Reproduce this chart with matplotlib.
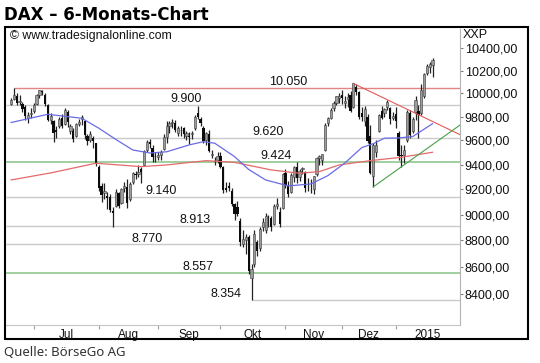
import matplotlib
matplotlib.use("Agg")
import matplotlib.pyplot as plt
from matplotlib.patches import Rectangle
from matplotlib.ticker import FixedLocator, NullLocator, FuncFormatter
import numpy as np
import pandas as pd

# trading days shown (Xetra), 19.06.2014 - 21.01.2015
holidays = ["2014-12-24", "2014-12-25", "2014-12-26", "2014-12-31", "2015-01-01"]
dates = pd.bdate_range("2014-06-19", "2015-01-21")
dates = dates[~dates.isin(pd.to_datetime(holidays))]

# daily OHLC
opens = [
    9910, 9950, 9975, 9925, 9910, 9880, 9790, 9820,                      # Jun
    9850, 9910, 9985, 10020, 9990, 9900, 9770, 9760, 9690, 9720, 9790,
    9740, 9840, 9680, 9680, 9640, 9740, 9780, 9760, 9640, 9600, 9620, 9580,  # Jul
    9380, 9230, 9170, 9150, 9140, 9030, 9070, 9170, 9090, 9210, 9220,
    9120, 9260, 9320, 9320, 9360, 9400, 9520, 9590, 9540, 9470,         # Aug
    9460, 9480, 9530, 9630, 9720, 9750, 9750, 9660, 9690, 9700, 9640,
    9640, 9650, 9700, 9830, 9780, 9700, 9600, 9650, 9480, 9430, 9440,   # Sep
    9470, 9380, 9210, 9230, 9190, 9080, 9060, 8950, 8770, 8800, 8830,
    8520, 8620, 8790, 8740, 8900, 8880, 8990, 8970, 8930, 9070, 9020, 9050,  # Okt
    9330, 9230, 9180, 9300, 9380, 9300, 9360, 9340, 9250, 9250,
    9200, 9320, 9450, 9440, 9520, 9750, 9790, 9870, 9920, 9960,         # Nov
    9990, 9920, 9950, 9990, 9880, 10060, 10010, 9830, 9760, 9800,
    9640, 9310, 9500, 9680, 9850, 9830, 9880, 9870, 9790,               # Dez
    9820, 9660, 9480, 9480, 9600, 9830, 9680, 9840, 9850, 9830,
    9980, 10180, 10230, 10250,                                          # Jan
]
highs = [
    9960, 10051, 10000, 9990, 9925, 9900, 9840, 9870,
    9920, 9995, 10033, 10030, 10000, 9910, 9830, 9770, 9720, 9800, 9820,
    9870, 9860, 9740, 9700, 9750, 9780, 9810, 9770, 9650, 9680, 9640, 9580,
    9400, 9250, 9250, 9180, 9160, 9060, 9200, 9180, 9210, 9260, 9280,
    9260, 9340, 9350, 9400, 9380, 9520, 9600, 9610, 9560, 9500,
    9500, 9520, 9650, 9760, 9760, 9780, 9770, 9720, 9720, 9710, 9680,
    9670, 9680, 9810, 9891, 9800, 9720, 9670, 9690, 9520, 9460, 9500,
    9500, 9390, 9260, 9260, 9210, 9090, 9110, 8970, 8880, 8850, 8840,
    8620, 8880, 8800, 8900, 8970, 9010, 9000, 8990, 9080, 9130, 9060, 9330,
    9360, 9270, 9330, 9390, 9420, 9360, 9380, 9350, 9290, 9280,
    9310, 9460, 9480, 9490, 9750, 9800, 9870, 9930, 9980, 10000,
    10030, 9980, 10000, 10020, 10087, 10080, 10020, 9880, 9890, 9820,
    9730, 9580, 9600, 9820, 9890, 9870, 9945, 9880, 9840,
    9880, 9680, 9560, 9560, 9860, 9860, 9800, 9980, 9900, 10080,
    10180, 10260, 10280, 10310,
]
lows = [
    9900, 9940, 9900, 9900, 9840, 9770, 9750, 9790,
    9830, 9900, 9960, 9990, 9890, 9760, 9740, 9590, 9620, 9700, 9700,
    9730, 9710, 9650, 9590, 9630, 9720, 9730, 9610, 9560, 9590, 9540, 9390,
    9190, 9100, 9120, 9040, 9020, 8903, 9060, 9050, 9080, 9180, 9050,
    9110, 9240, 9280, 9300, 9250, 9390, 9500, 9540, 9420, 9420,
    9440, 9440, 9520, 9580, 9660, 9700, 9670, 9640, 9640, 9620, 9600,
    9570, 9610, 9690, 9780, 9720, 9580, 9560, 9500, 9450, 9400, 9410,
    9370, 9170, 9180, 9190, 9070, 8960, 8990, 8760, 8750, 8700, 8550,
    8354, 8600, 8680, 8720, 8870, 8860, 8900, 8870, 8920, 9040, 8900, 9040,
    9210, 9140, 9170, 9260, 9250, 9270, 9320, 9180, 9190, 9170,
    9160, 9310, 9400, 9400, 9510, 9720, 9780, 9850, 9900, 9920,
    9910, 9870, 9880, 9840, 9870, 9990, 9780, 9760, 9720, 9580,
    9320, 9219, 9460, 9670, 9780, 9800, 9860, 9740, 9770,
    9700, 9440, 9382, 9410, 9590, 9620, 9660, 9770, 9620, 9810,
    9960, 10160, 10180, 10140,
]
closes = [
    9945, 9987, 9920, 9938, 9868, 9804, 9815, 9833,
    9902, 9990, 10029, 10009, 9906, 9772, 9808, 9659, 9666, 9783, 9719,
    9859, 9753, 9720, 9612, 9734, 9753, 9797, 9644, 9593, 9653, 9593, 9407,
    9210, 9154, 9189, 9130, 9039, 9010, 9180, 9069, 9199, 9225, 9092,
    9245, 9334, 9314, 9339, 9339, 9510, 9588, 9569, 9462, 9470,
    9479, 9507, 9626, 9724, 9747, 9758, 9686, 9700, 9691, 9651, 9660,
    9632, 9661, 9799, 9799, 9750, 9595, 9662, 9510, 9490, 9422, 9474,
    9382, 9195, 9196, 9209, 9086, 9006, 9005, 8788, 8812, 8825, 8572,
    8582, 8850, 8717, 8886, 8940, 8987, 8988, 8902, 9068, 9082, 8926, 9326,
    9235, 9166, 9315, 9377, 9291, 9351, 9369, 9210, 9248, 9252,
    9306, 9456, 9472, 9483, 9732, 9785, 9861, 9915, 9974, 9980,
    9963, 9934, 9971, 9851, 10087, 10014, 9799, 9799, 9862, 9594,
    9335, 9563, 9564, 9811, 9787, 9865, 9922, 9783, 9806,
    9765, 9473, 9469, 9518, 9837, 9648, 9781, 9941, 9818, 10032,
    10167, 10242, 10257, 10299,
]

# moving averages, sampled from the chart (bar number, value)
ma_fast_bar = [0, 13, 25, 31, 37, 43, 49, 55, 63, 68, 72, 79, 84, 90, 98, 106, 112, 118, 124, 128, 132, 137, 142, 149]
ma_fast = [9750, 9820, 9786, 9702, 9608, 9520, 9495, 9505, 9562, 9589, 9576, 9465, 9360, 9275, 9227, 9243, 9310, 9413, 9540, 9572, 9618, 9620, 9632, 9740]
ma_slow_bar = [0, 14, 30, 46, 55, 69, 79, 92, 102, 109, 116, 127, 138, 149]
ma_slow = [9275, 9332, 9411, 9383, 9397, 9432, 9418, 9356, 9329, 9343, 9397, 9432, 9460, 9501]

# horizontal levels
levels = [10050, 9900, 9620, 9424, 9140, 8913, 8770, 8557, 8354]
level_kind = ["red", "grey", "grey", "green", "grey", "grey", "grey", "green", "grey"]
level_from = ["2014-06-20", None, None, None, None, None, None, None, "2014-10-16"]

# trend lines through two bars: (date, which price)
trend_down = [("2014-12-05", "high"), ("2014-12-23", "high")]
trend_up = [("2014-12-16", "low"), ("2015-01-06", "low")]

month_labels = ["Jul", "Aug", "Sep", "Okt", "Nov", "Dez", "2015"]
price_ticks = [8400, 8600, 8800, 9000, 9200, 9400, 9600, 9800, 10000, 10200, 10400]

# ---------------------------------------------------------------
W, H = 540, 363
fig = plt.figure(figsize=(W / 100, H / 100), dpi=100)
fig.patch.set_facecolor("white")

def fx(px):
    return px / W

def fy(py):
    return 1 - py / H

ax = fig.add_axes([fx(6), fy(325), fx(460) - fx(6), fy(29) - fy(325)])
ax.set_yscale("log")
ax.set_ylim(8176, 10576)
ax.set_xlim(-1.8, 158.7)
xmin, xmax = ax.get_xlim()

o = np.array(opens, float)
hi = np.array(highs, float)
lo = np.array(lows, float)
c = np.array(closes, float)
x = np.arange(len(dates))
pos = {d.strftime("%Y-%m-%d"): i for i, d in enumerate(dates)}

# levels
lvl_color = {"red": "#e08484", "grey": "#cacaca", "green": "#9acb9a"}
lvl_width = {"red": 1.0, "grey": 1.0, "green": 1.3}
for v, k, start in zip(levels, level_kind, level_from):
    x0 = pos[start] if start else xmin
    ax.hlines(v, x0, xmax, color=lvl_color[k], lw=lvl_width[k], zorder=1)

label_x = [98, 62, 91, 93.5, 53, 65, 48, 66, 76]
for v, lx in zip(levels, label_x):
    ax.annotate(f"{v:,}".replace(",", "."), xy=(lx, v), xytext=(0, 2),
                textcoords="offset points", ha="center", va="baseline",
                fontsize=9, family="Liberation Sans", color="#111111", zorder=5)

# candles
up = c >= o
ax.vlines(x, lo, hi, color="#222222", lw=0.9, zorder=2)
ax.bar(x[up], (c - o)[up], bottom=o[up], width=0.8, color="#9c9c9c",
       edgecolor="#3a3a3a", linewidth=0.4, zorder=3)
ax.bar(x[~up], (o - c)[~up], bottom=c[~up], width=0.8, color="#0c0c0c",
       linewidth=0, zorder=3)

# moving averages
ax.plot(ma_slow_bar, ma_slow, color="#e46a6a", lw=0.9, zorder=4)
ax.plot(ma_fast_bar, ma_fast, color="#6a6ae6", lw=0.9, zorder=4)

# trend lines, extended to the right edge
def trend(points, color):
    (d1, f1), (d2, f2) = points
    i1, i2 = pos[d1], pos[d2]
    p1 = {"high": hi, "low": lo}[f1][i1]
    p2 = {"high": hi, "low": lo}[f2][i2]
    k = np.log(p2 / p1) / (i2 - i1)
    ax.plot([i1, xmax], [p1, p1 * np.exp(k * (xmax - i1))], color=color, lw=0.8, zorder=4)

trend(trend_down, "#e05a5a")
trend(trend_up, "#4aa04a")

# axes styling
for s in ["top", "left"]:
    ax.spines[s].set_visible(False)
ax.spines["right"].set_color("#b4b4b4")
ax.spines["bottom"].set_color("#c4c4c4")
ax.spines["right"].set_linewidth(0.8)
ax.spines["bottom"].set_linewidth(0.8)

ax.yaxis.tick_right()
ax.yaxis.set_major_locator(FixedLocator(price_ticks))
ax.yaxis.set_minor_locator(NullLocator())
ax.yaxis.set_major_formatter(FuncFormatter(lambda v, p: f"{v:.2f}".replace(".", ",")))
ax.tick_params(axis="y", which="major", length=2, width=0.8, color="#808080",
               pad=1.5, labelsize=9, labelcolor="#111111")
for t in ax.get_yticklabels():
    t.set_family("Liberation Sans")

month_start = [i for i in range(1, len(dates)) if dates[i].month != dates[i - 1].month]
edges = month_start + [xmax]
mids = [(a + b) / 2 for a, b in zip(edges[:-1], edges[1:])]
ax.xaxis.set_major_locator(FixedLocator(month_start))
ax.xaxis.set_minor_locator(FixedLocator(mids))
ax.xaxis.set_major_formatter(FuncFormatter(lambda v, p: ""))
ax.xaxis.set_minor_formatter(FuncFormatter(lambda v, p: month_labels[mids.index(v)] if v in mids else ""))
ax.tick_params(axis="x", which="major", length=3, width=0.8, color="#a0a0a0", direction="out")
ax.tick_params(axis="x", which="minor", length=0, pad=2.8, labelsize=8.5, labelcolor="#111111")
for t in ax.get_xminorticklabels():
    t.set_family("Liberation Sans")

# outer frame and texts
fig.add_artist(Rectangle((fx(5), fy(339)), fx(528) - fx(5), fy(27) - fy(339),
                         transform=fig.transFigure, fill=False, lw=1.5, edgecolor="black"))
fig.text(fx(4), fy(20.5), "DAX \u2013 6-Monats-Chart", fontsize=12, weight="bold",
         family="DejaVu Sans", va="baseline", ha="left")
fig.text(fx(10), fy(39.5), "\u00a9 www.tradesignalonline.com", fontsize=8.8,
         family="Liberation Sans", va="baseline", ha="left", color="#111111")
fig.text(fx(463), fy(37.5), "XXP", fontsize=9, family="Liberation Sans",
         va="baseline", ha="left", color="#111111")
fig.text(fx(4), fy(356), "Quelle: B\u00f6rseGo AG", fontsize=9.5,
         family=["Liberation Sans Narrow", "Noto Sans"], va="baseline", ha="left", color="#333333")

fig.savefig("out.png", dpi=100)
